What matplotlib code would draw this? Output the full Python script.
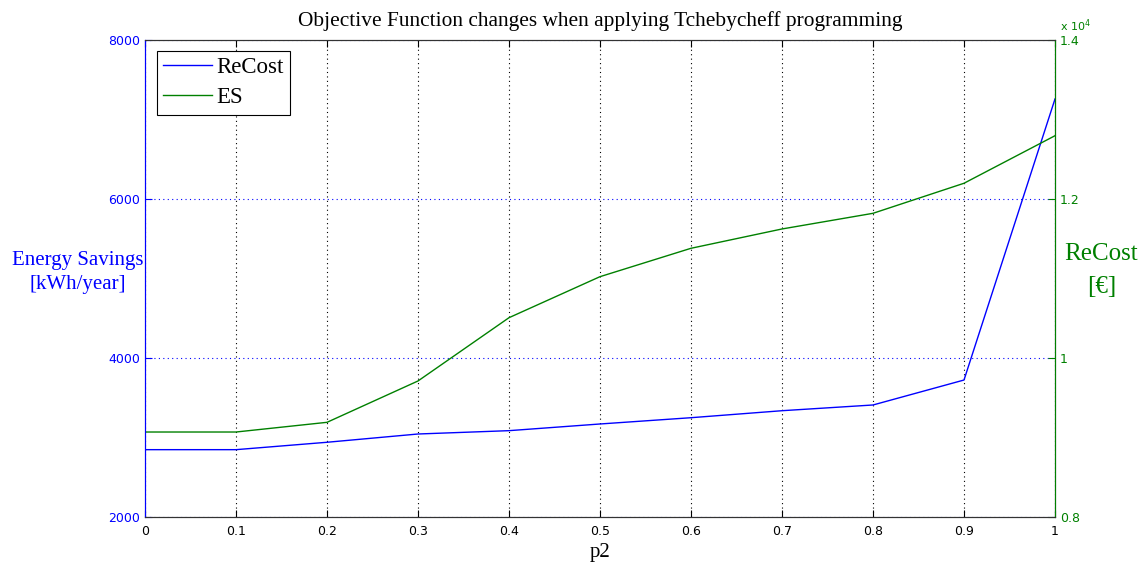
import matplotlib.pyplot as plt
from matplotlib.ticker import FuncFormatter

p2 = [0, 0.1, 0.2, 0.3, 0.4, 0.5, 0.6, 0.7, 0.8, 0.9, 1.0]
energy_savings = [2847, 2847, 2940, 3044, 3086, 3170, 3249, 3337, 3409, 3723, 7258]
recost = [9069, 9069, 9191, 9711, 10507, 11023, 11380, 11623, 11820, 12198, 12796]

left_ticks = [2000, 4000, 6000, 8000]
right_ticks = [8000, 10000, 12000, 14000]
x_ticks = p2

BLUE = '#0000ff'
GREEN = '#008000'
SERIF = 'Liberation Serif'


def plot_and_save(saveto):
    fig = plt.figure(figsize=(11.46, 5.69), dpi=100)
    ax = fig.add_axes([145 / 1146, 1 - 517 / 569, 910 / 1146, 477 / 569])
    ax2 = ax.twinx()

    l1, = ax.plot(p2, energy_savings, color=BLUE, lw=1.0, label='ReCost')
    l2, = ax2.plot(p2, recost, color=GREEN, lw=1.0, label='ES')

    ax.set_xlim(0, 1)
    ax.set_ylim(2000, 8000)
    ax2.set_ylim(8000, 14000)
    ax.set_xticks(x_ticks)
    ax.set_xticklabels([f'{v:g}' for v in x_ticks])
    ax.set_yticks(left_ticks)
    ax2.set_yticks(right_ticks)
    ax2.yaxis.set_major_formatter(FuncFormatter(lambda v, _: f'{v / 1e4:g}'))

    ax.xaxis.grid(True, color='black', linestyle=(0, (1, 3)), lw=0.8)
    ax.yaxis.grid(True, color=BLUE, linestyle=(0, (1, 3)), lw=0.8)

    ax.tick_params(axis='x', direction='in', top=True, length=5, labelsize=9,
                   colors='black', pad=6)
    ax.tick_params(axis='y', direction='in', length=5, labelsize=9,
                   colors=BLUE, labelcolor=BLUE)
    ax2.tick_params(axis='y', direction='in', length=5, labelsize=9,
                    colors=GREEN, labelcolor=GREEN)

    for a in (ax, ax2):
        a.spines['top'].set_color('#333333')
        a.spines['bottom'].set_color('#333333')
    ax2.spines['left'].set_color(BLUE)
    ax2.spines['right'].set_color(GREEN)
    ax.spines['left'].set_color(BLUE)

    ax.set_title('Objective Function changes when applying Tchebycheff programming',
                 family=SERIF, fontsize=15.4, pad=10)
    ax.set_xlabel('p2', family=SERIF, fontsize=15, labelpad=3)
    ax.set_ylabel('Energy Savings\n[kWh/year]', family=SERIF, fontsize=15,
                  color=BLUE, rotation=0, ha='center', va='center',
                  linespacing=1.35)
    ax.yaxis.set_label_coords(-0.074, 0.512)
    ax2.set_ylabel('ReCost\n[€]', family=SERIF, fontsize=18,
                   color=GREEN, rotation=0, ha='center', va='center',
                   linespacing=1.65)
    ax2.yaxis.set_label_coords(1.051, 0.517)

    ax2.text(1.005, 1.012, r'x 10$^4$', transform=ax2.transAxes, color=GREEN,
             fontsize=8, ha='left', va='bottom')

    leg = ax2.legend([l1, l2], ['ReCost', 'ES'], loc='upper left',
                     bbox_to_anchor=(12 / 910, 1 - 11 / 477), borderaxespad=0,
                     fancybox=False, edgecolor='black', framealpha=1,
                     prop={'family': SERIF, 'size': 16.5},
                     handlelength=2.1, handletextpad=0.2, borderpad=0.28,
                     labelspacing=0.38)
    leg.get_frame().set_linewidth(0.8)

    fig.savefig(saveto, dpi=100)
    plt.close(fig)


if __name__ == '__main__':
    plot_and_save('out.png')
